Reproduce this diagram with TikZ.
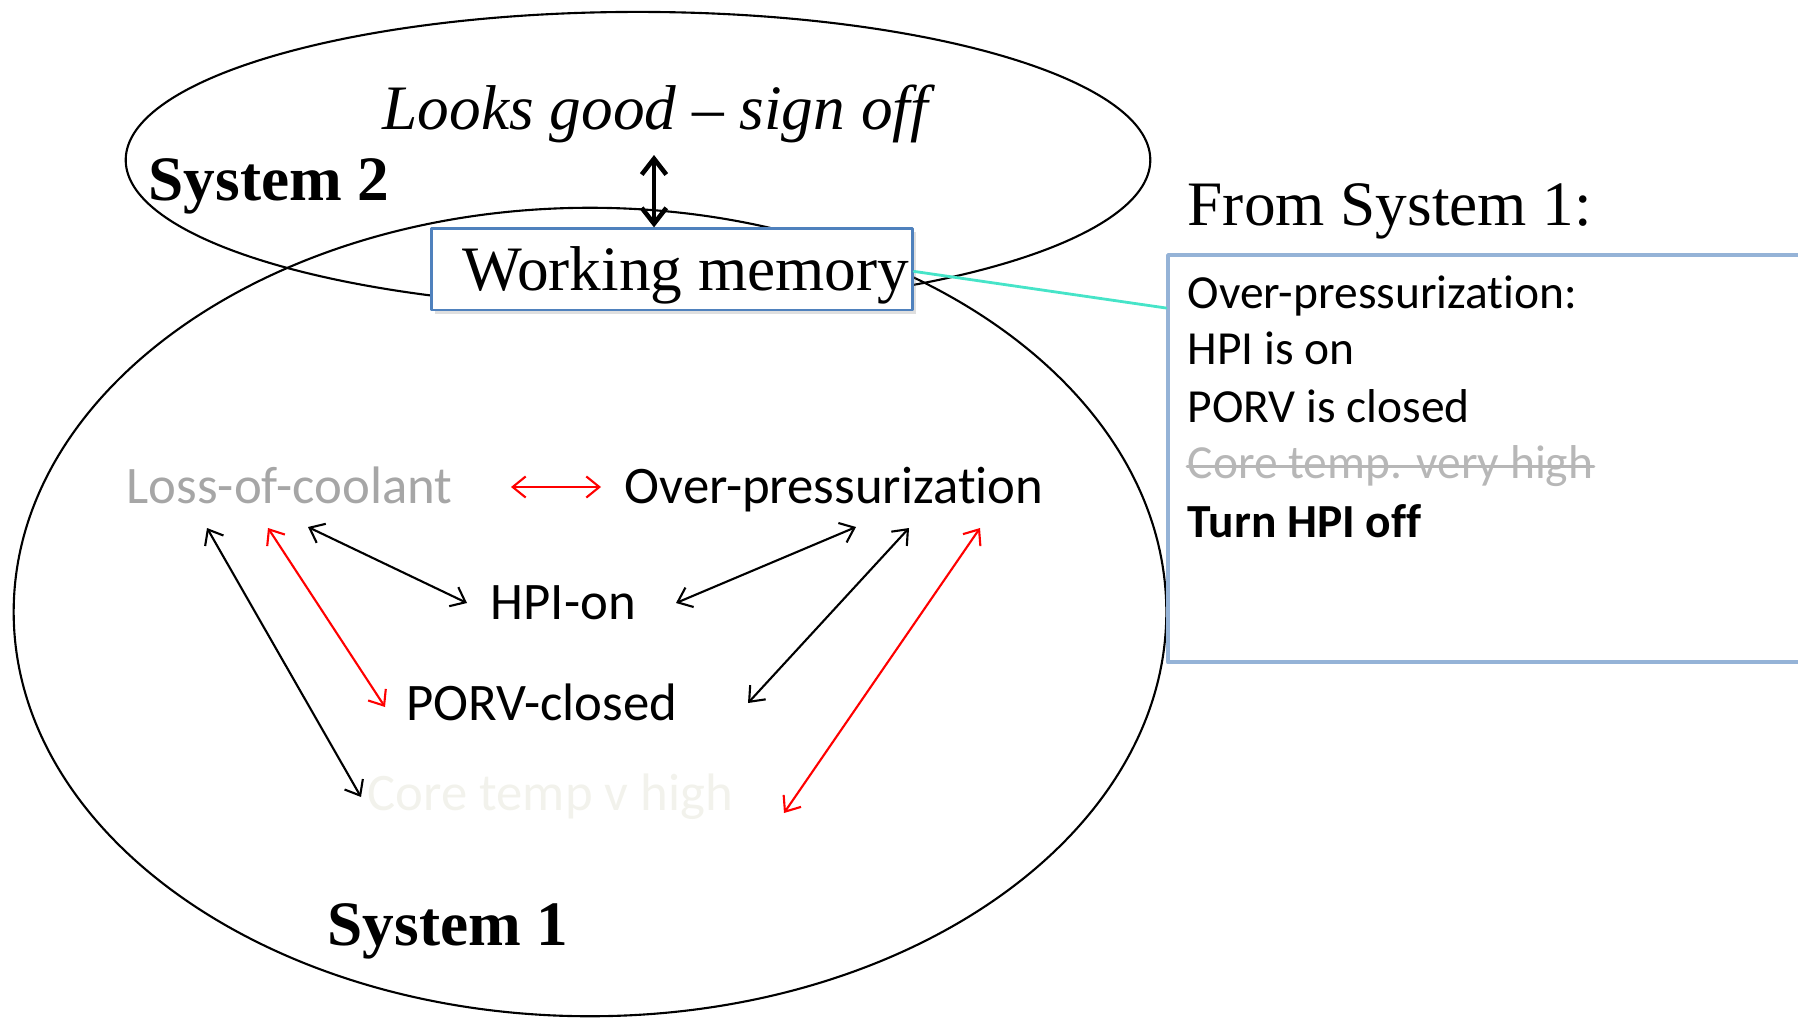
\documentclass[tikz,border=0pt]{standalone}
\usepackage{fontspec}
\setmainfont{Liberation Serif}
\newfontfamily\calibri[RawFeature={-liga;-clig;-dlig;-calt}]{Carlito}
\usetikzlibrary{calc,arrows.meta,shadows}
\definecolor{wmblue}{RGB}{79,129,189}
\definecolor{boxblue}{RGB}{149,179,215}
\definecolor{linkcyan}{RGB}{70,228,200}
\definecolor{lossgray}{RGB}{166,166,166}
\definecolor{strikegray}{RGB}{183,183,183}
\definecolor{faint}{RGB}{242,242,236}

\begin{document}
\begin{tikzpicture}[x=0.01cm, y=-0.01cm, line join=round, line cap=round,
	>={Straight Barb[length=3.7pt,width=6pt]},
	serif/.style={inner sep=0pt, anchor=base west, font=\fontsize{18}{21.6}\selectfont},
	lbl/.style={inner sep=0pt, anchor=base west, font=\calibri\fontsize{15}{18}\selectfont},
	note/.style={inner sep=0pt, anchor=base west, font=\calibri\fontsize{13.5}{16.2}\selectfont},
	link/.style={<->, line width=0.6pt}]
	\useasboundingbox (0,0) rectangle (1798,1018);
	\def \rxtop{5.12cm} \def \rytop{1.48cm}
	\def \rxbot{5.76cm} \def \rybot{4.04cm}
	\coordinate (S2) at (638,160);
	\coordinate (S1) at (590,612);
	\draw[line width=0.6pt] (S2) ellipse [x radius=\rxtop, y radius=\rytop];
	\draw[line width=0.6pt] (S1) ellipse [x radius=\rxbot, y radius=\rybot];
	\node[serif] (looks) at (382,129) {\itshape Looks good -- sign off};
	\node[serif] (sys2) at (148,200) {\bfseries System 2};
	\node[serif] (sys1) at (327,945) {\bfseries System 1};
	\node[serif] (from) at (1187,225) {From System 1:};
	\node[serif, draw=wmblue, fill=white, line width=0.8pt, text height=17.4pt, text depth=5.7pt,
		drop shadow={opacity=0.25, shadow xshift=1pt, shadow yshift=-1pt}] (wm) at (430,290)
		{\makebox[4.81cm][l]{\hspace{0.31cm}Working memory}};
	\draw[<->, >={Straight Barb[length=4.5pt,width=7pt]}, line width=1.3pt]
		($(looks.base west)+(272,26)$) -- ($(wm.north west)+(224,0)$);
	\node[draw=boxblue, line width=1.2pt, anchor=north west, minimum width=7cm, minimum height=4.07cm] (notes) at (1166,253) {};
	\draw[linkcyan, line width=0.8pt] ($(wm.north east)+(0,44)$) -- ($(notes.north west)+(0,55)$);
	\node[note] (n1) at (1187,308) {Over-pressurization:};
	\node[note] (n2) at (1187,364) {HPI is on};
	\node[note] (n3) at (1187,422) {PORV is closed};
	\node[note, text=strikegray] (n4) at (1187,478) {Core temp. very high};
	\node[note] (n5) at (1187,537) {\bfseries Turn HPI off};
	\draw[strikegray, line width=0.8pt] ([yshift=3.3pt]n4.base west) -- ([yshift=3.3pt]n4.base east);
	\node[lbl, text=lossgray] (loss) at (126,503) {Loss-of-coolant};
	\node[lbl] (over) at (624,503) {Over-pressurization};
	\node[lbl] (hpi) at (490,619) {HPI-on};
	\node[lbl] (porv) at (406,720) {PORV-closed};
	\node[lbl, text=faint] (core) at (367,810) {Core temp v high};
	\draw[link] ($(loss.base west)+(81,25)$) -- ($(core.base west)+(-6,-13)$);
	\draw[link, red] ($(loss.base west)+(142,25)$) -- ($(porv.base west)+(-21,-13)$);
	\draw[link] ($(loss.base west)+(182,24)$) -- ($(hpi.base west)+(-23,-16)$);
	\draw[link, red] ($(loss.base west)+(385,-16)$) -- ($(over.base west)+(-23,-16)$);
	\draw[link] ($(over.base west)+(232,24)$) -- ($(hpi.base west)+(186,-16)$);
	\draw[link] ($(over.base west)+(285,25)$) -- ($(porv.base west)+(342,-17)$);
	\draw[link, red] ($(over.base west)+(356,25)$) -- ($(core.base west)+(417,3)$);
\end{tikzpicture}
\end{document}
